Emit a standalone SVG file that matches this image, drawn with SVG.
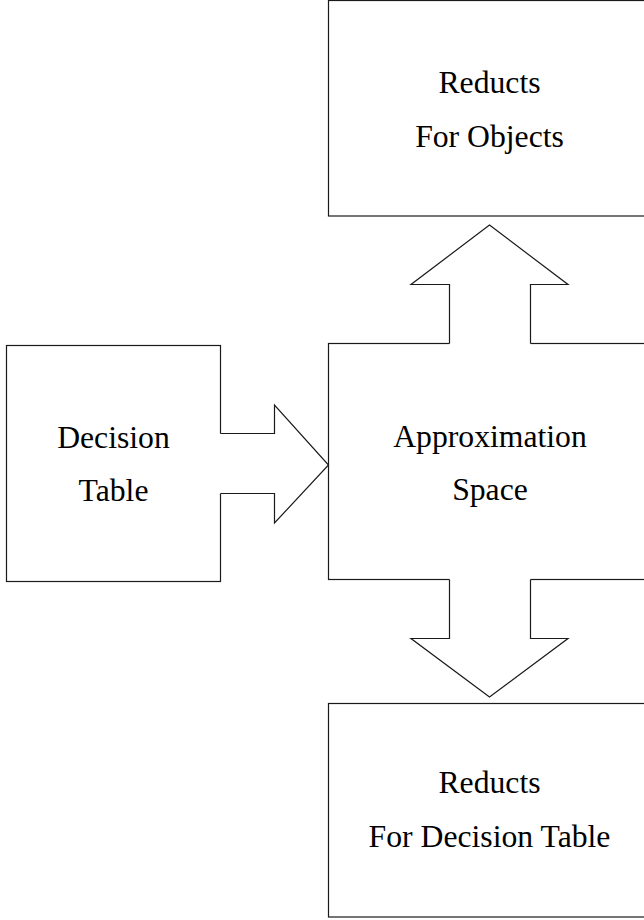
<svg xmlns="http://www.w3.org/2000/svg" width="644" height="920" viewBox="0 0 644 920">
  <style>
    .box { fill: #ffffff; stroke: #1a1a1a; stroke-width: 1.2; }
    .mask { fill: #ffffff; stroke: none; }
    .edge { fill: none; stroke: #1a1a1a; stroke-width: 1.2; stroke-linejoin: miter; }
    .label { font-family: "Liberation Serif", "Times New Roman", serif; font-size: 31.7px; fill: #000000; text-anchor: middle; }
  </style>
  <rect width="644" height="920" fill="#ffffff"/>

  <g id="reducts-objects">
    <rect class="box" x="328.5" y="0.5" width="330" height="215.5"/>
    <text class="label" x="489.5" y="93">Reducts</text>
    <text class="label" x="489.5" y="147">For Objects</text>
  </g>

  <g id="decision-table">
    <rect class="box" x="6.5" y="345.5" width="214" height="236"/>
    <text class="label" x="113.5" y="448">Decision</text>
    <text class="label" x="113.5" y="501">Table</text>
  </g>

  <g id="approximation-space">
    <rect class="box" x="328.5" y="343.5" width="330" height="236"/>
    <text class="label" x="490" y="447">Approximation</text>
    <text class="label" x="490" y="500">Space</text>
  </g>

  <g id="reducts-decision-table">
    <rect class="box" x="328.5" y="703.5" width="330" height="213.5"/>
    <text class="label" x="489.5" y="793">Reducts</text>
    <text class="label" x="489.5" y="847">For Decision Table</text>
  </g>

  <g id="connectors">
    <!-- block arrow: decision table -> approximation space -->
    <polygon class="mask" points="219,433.5 274.5,433.5 274.5,405 328.5,465 274.5,523 274.5,493.5 219,493.5"/>
    <polyline class="edge" points="220.5,433.5 274.5,433.5 274.5,405 328.5,465 274.5,523 274.5,493.5 220.5,493.5"/>

    <!-- block arrow: approximation space -> reducts for objects -->
    <polygon class="mask" points="449.5,345 449.5,284.5 411,284.5 489.5,225 568,284.5 530.5,284.5 530.5,345"/>
    <polyline class="edge" points="449.5,343.5 449.5,284.5 411,284.5 489.5,225 568,284.5 530.5,284.5 530.5,343.5"/>

    <!-- block arrow: approximation space -> reducts for decision table -->
    <polygon class="mask" points="449.5,578 449.5,638.5 411,638.5 489.5,697 568,638.5 530.5,638.5 530.5,578"/>
    <polyline class="edge" points="449.5,579.5 449.5,638.5 411,638.5 489.5,697 568,638.5 530.5,638.5 530.5,579.5"/>
  </g>
</svg>
